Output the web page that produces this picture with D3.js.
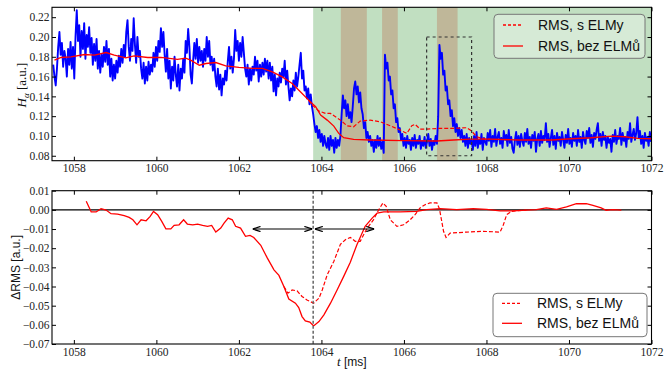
<!DOCTYPE html>
<html>
<head>
<meta charset="utf-8">
<script src="https://cdn.jsdelivr.net/npm/d3@7"></script>
<style>
  body { margin: 0; background: #fff; }
</style>
</head>
<body>
<svg id="chart" width="665" height="370"></svg>
<script>
// ---- data ----
const xTicks = [1058, 1060, 1062, 1064, 1066, 1068, 1070, 1072];
const topYTicks = [0.08, 0.10, 0.12, 0.14, 0.16, 0.18, 0.20, 0.22];
const bottomYTicks = [0.01, 0.00, -0.01, -0.02, -0.03, -0.04, -0.05, -0.06, -0.07];

const hModeStart = 1063.8;          // green region + dotted line
const elmBands = [[1064.47, 1065.10], [1065.47, 1065.85], [1066.80, 1067.30]];
const zoomBox = { t0: 1066.55, t1: 1067.64, v0: 0.08, v1: 0.20 };
const arrowSpans = [[1062.33, 1063.78], [1063.84, 1065.28]];
const arrowLevel = -0.01;

// H-alpha signal, 10^-3 a.u., sampled every 0.03 ms from 1057.5 ms
const halphaStart = 1057.5, halphaStep = 0.03;
const halphaMilli = [
  172, 160, 151, 168, 190, 205, 182, 194, 170, 186,
  178, 160, 188, 172, 195, 168, 190, 158, 200, 227,
  196, 212, 180, 206, 188, 214, 178, 202, 190, 210,
  184, 199, 172, 193, 176, 198, 168, 186, 164, 182,
  170, 190, 175, 196, 172, 188, 160, 178, 156, 172,
  158, 176, 164, 181, 170, 188, 174, 192, 180, 205,
  217, 190, 176, 198, 186, 219, 192, 174, 200, 180,
  186, 168, 158, 174, 153, 170, 156, 175, 162, 172,
  165, 184, 170, 190, 176, 196, 185, 209, 190, 205,
  182, 165, 188, 158, 176, 148, 170, 156, 180, 162,
  150, 172, 146, 168, 158, 178, 164, 196, 184, 208,
  190, 162, 153, 176, 194, 178, 198, 174, 190, 176,
  186, 170, 188, 176, 200, 180, 196, 172, 180, 166,
  178, 160, 150, 168, 147, 162, 141, 158, 152, 166,
  156, 175, 190, 168, 180, 164, 178, 207, 186, 196,
  176, 194, 180, 200, 184, 168, 160, 172, 152, 168,
  156, 170, 162, 180, 166, 176, 155, 172, 160, 174,
  162, 178, 165, 176, 158, 174, 156, 170, 145, 162,
  141, 158, 150, 164, 154, 168, 160, 176, 152, 166,
  150, 136, 148, 140, 156, 146, 164, 150, 160, 172,
  184, 158, 166, 146, 150, 138, 148, 132, 142, 130,
  122, 112, 104, 110, 98, 106, 94, 102, 90, 100,
  92, 88, 98, 86, 100, 90, 96, 83, 98, 88,
  96, 90, 100, 122, 141, 128, 136, 120, 132, 118,
  124, 114, 130, 148, 155, 142, 150, 134, 144, 128,
  122, 108, 114, 98, 104, 94, 100, 90, 96, 84,
  96, 88, 100, 90, 98, 87, 94, 83, 182, 168,
  174, 156, 160, 142, 146, 128, 132, 114, 118, 104,
  108, 96, 102, 90, 98, 88, 100, 92, 96, 86,
  98, 90, 101, 88, 96, 92, 100, 87, 95, 90,
  99, 88, 94, 102, 90, 97, 86, 95, 91, 100,
  92, 120, 192, 178, 184, 162, 166, 146, 150, 132,
  136, 120, 126, 110, 118, 104, 112, 100, 108, 98,
  106, 94, 100, 90, 102, 88, 98, 92, 96, 86,
  100, 90, 104, 88, 96, 92, 102, 86, 98, 94,
  91, 103, 95, 106, 89, 100, 94, 107, 90, 99,
  104, 92, 98, 88, 105, 96, 101, 90, 106, 93,
  99, 87, 83, 96, 104, 91, 100, 89, 102, 95,
  90, 103, 94, 107, 92, 99, 88, 101, 95, 104,
  84, 97, 102, 90, 105, 93, 100, 96, 113, 94,
  102, 89, 98, 106, 91, 100, 87, 103, 95, 99,
  90, 104, 96, 88, 101, 93, 107, 92, 98, 89,
  103, 95, 100, 90, 106, 94, 99, 88, 104, 96,
  92, 105, 98, 108, 93, 101, 89, 103, 97, 106,
  113, 95, 102, 90, 104, 96, 100, 88, 99, 93,
  97, 84, 101, 94, 106, 92, 100, 97, 108, 91,
  103, 95, 99, 89, 104, 97, 113, 94, 101, 107,
  96, 103, 119, 98, 105, 92, 100, 88, 103, 95,
  99, 90, 104, 94
];

// RMS trend of H-alpha [t, value]
const rmsTopNoElm = [
  [1057.53, 0.1766], [1057.69, 0.1793], [1057.93, 0.1800], [1058.26, 0.1823], [1058.50, 0.1816],
  [1058.78, 0.1843], [1058.98, 0.1816], [1059.26, 0.1789], [1059.46, 0.1809], [1059.79, 0.1793],
  [1060.11, 0.1793], [1060.31, 0.1783], [1060.51, 0.1773], [1060.71, 0.1786], [1060.83, 0.1766],
  [1061.04, 0.1715], [1061.20, 0.1732], [1061.44, 0.1742], [1061.68, 0.1708], [1062.00, 0.1692],
  [1062.33, 0.1682], [1062.57, 0.1682], [1062.81, 0.1648], [1063.05, 0.1597], [1063.29, 0.1530],
  [1063.49, 0.1446], [1063.69, 0.1362], [1063.86, 0.1295], [1063.98, 0.1211], [1064.14, 0.1160],
  [1064.30, 0.1100], [1064.42, 0.1026], [1064.54, 0.0982], [1064.78, 0.0966], [1065.18, 0.0959],
  [1065.99, 0.0952], [1066.80, 0.0949], [1067.20, 0.0959], [1067.60, 0.0969], [1068.08, 0.0969],
  [1068.77, 0.0959], [1069.58, 0.0959], [1070.06, 0.0972], [1070.54, 0.0982], [1071.03, 0.0999],
  [1071.35, 0.0992], [1071.67, 0.0976], [1071.99, 0.0972]
];
// with ELMs: only the stretch where it leaves the ELM-free curve
const rmsTopElm = [
  [1063.69, 0.1362], [1063.78, 0.1312], [1063.94, 0.1251], [1064.10, 0.1228], [1064.22, 0.1228],
  [1064.46, 0.1160], [1064.62, 0.1103], [1064.78, 0.1093], [1064.94, 0.1150], [1065.18, 0.1160],
  [1065.43, 0.1143], [1065.67, 0.1103], [1065.91, 0.1060], [1066.07, 0.1026], [1066.19, 0.1103],
  [1066.27, 0.1117], [1066.39, 0.1070], [1066.55, 0.1070], [1066.88, 0.1077], [1067.20, 0.1077],
  [1067.52, 0.1083], [1067.64, 0.1050], [1067.76, 0.0992], [1067.96, 0.0969], [1068.08, 0.0969]
];

// delta RMS [t, value]
const dRmsNoElm = [
  [1058.30, 0.0045], [1058.42, -0.0011], [1058.54, -0.0011], [1058.66, 0.0006], [1058.78, -0.0001],
  [1058.90, -0.0020], [1059.06, -0.0022], [1059.22, -0.0030], [1059.34, -0.0039], [1059.43, -0.0052],
  [1059.53, -0.0078], [1059.63, -0.0052], [1059.75, -0.0057], [1059.85, -0.0034], [1059.93, -0.0008],
  [1060.03, -0.0025], [1060.13, -0.0060], [1060.23, -0.0099], [1060.35, -0.0099], [1060.43, -0.0081],
  [1060.55, -0.0078], [1060.66, -0.0052], [1060.75, -0.0074], [1060.88, -0.0078], [1061.00, -0.0074],
  [1061.12, -0.0081], [1061.24, -0.0086], [1061.34, -0.0081], [1061.44, -0.0116], [1061.56, -0.0095],
  [1061.64, -0.0069], [1061.74, -0.0043], [1061.84, -0.0052], [1061.92, -0.0086], [1062.04, -0.0095],
  [1062.16, -0.0138], [1062.27, -0.0133], [1062.36, -0.0144], [1062.53, -0.0185], [1062.69, -0.0252],
  [1062.85, -0.0313], [1062.97, -0.0342], [1063.09, -0.0400], [1063.21, -0.0465], [1063.37, -0.0487],
  [1063.45, -0.0510], [1063.53, -0.0557], [1063.61, -0.0580], [1063.72, -0.0586], [1063.81, -0.0606],
  [1063.94, -0.0583], [1064.06, -0.0548], [1064.22, -0.0487], [1064.38, -0.0418], [1064.54, -0.0347],
  [1064.70, -0.0273], [1064.86, -0.0182], [1065.06, -0.0086], [1065.23, -0.0043], [1065.35, -0.0017],
  [1065.51, -0.0011], [1065.91, -0.0011], [1066.31, -0.0008], [1066.55, 0.0001], [1066.88, 0.0006],
  [1067.28, 0.0001], [1067.68, 0.0006], [1068.00, 0.0003], [1068.33, -0.0005], [1068.65, -0.0005],
  [1068.97, -0.0001], [1069.21, 0.0001], [1069.45, 0.0010], [1069.70, 0.0003], [1069.94, 0.0015],
  [1070.18, 0.0032], [1070.42, 0.0032], [1070.58, 0.0024], [1070.78, 0.0010], [1070.90, -0.0002],
  [1071.06, 0.0001], [1071.27, -0.0001]
];
const dRmsElm = [
  [1063.09, -0.0400], [1063.19, -0.0435], [1063.29, -0.0418], [1063.41, -0.0423], [1063.53, -0.0452],
  [1063.65, -0.0470], [1063.81, -0.0487], [1063.94, -0.0461], [1064.02, -0.0418], [1064.14, -0.0339],
  [1064.30, -0.0269], [1064.46, -0.0180], [1064.58, -0.0156], [1064.70, -0.0144], [1064.82, -0.0164],
  [1064.94, -0.0164], [1065.11, -0.0095], [1065.26, -0.0052], [1065.39, 0.0001], [1065.49, 0.0036],
  [1065.57, 0.0018], [1065.67, -0.0052], [1065.83, -0.0086], [1065.99, -0.0078], [1066.15, -0.0052],
  [1066.27, -0.0025], [1066.39, 0.0010], [1066.51, 0.0027], [1066.63, 0.0036], [1066.80, 0.0036],
  [1066.86, 0.0006], [1066.96, -0.0112], [1067.02, -0.0144], [1067.12, -0.0121], [1067.52, -0.0116],
  [1067.92, -0.0112], [1068.33, -0.0116], [1068.41, -0.0078], [1068.49, -0.0025], [1068.61, -0.0008],
  [1068.69, -0.0005], [1068.97, -0.0001]
];

const legendLabels = ["RMS, s ELMy", "RMS, bez ELMů"];

// ---- layout ----
const svg = d3.select("#chart");
const serif = "'Liberation Serif', 'Times New Roman', serif";
const sans = "'Liberation Sans', Arial, sans-serif";
const top1 = 7.3, bottom1 = 160.7, top2 = 190.7, bottom2 = 344;

const x = d3.scaleLinear().domain([1057.47, 1072]).range([52, 651.5]);
const y1 = d3.scaleLinear().domain([0.075, 0.23]).range([bottom1, top1]);
const y2 = d3.scaleLinear().domain([-0.07, 0.01]).range([bottom2, top2]);
const x0 = x.range()[0], x1 = x.range()[1];

const defs = svg.append("defs");
[["clipTop", top1, bottom1], ["clipBottom", top2, bottom2]].forEach(([id, t, b]) => {
  defs.append("clipPath").attr("id", id)
    .append("rect").attr("x", x0).attr("y", t).attr("width", x1 - x0).attr("height", b - t);
});
defs.append("marker")
  .attr("id", "arrowHead")
  .attr("viewBox", "0 0 8 6")
  .attr("refX", 8).attr("refY", 3)
  .attr("markerWidth", 8).attr("markerHeight", 6)
  .attr("markerUnits", "userSpaceOnUse")
  .attr("orient", "auto-start-reverse")
  .append("path")
  .attr("d", "M0,0.4 L8,3 L0,5.6")
  .attr("fill", "none").attr("stroke", "#000").attr("stroke-width", 1.2);

const lineOf = (ys) => d3.line().x(d => x(d[0])).y(d => ys(d[1]));

// ---- top panel ----
const gTop = svg.append("g").attr("clip-path", "url(#clipTop)");

gTop.append("rect")
  .attr("x", x(hModeStart)).attr("y", top1)
  .attr("width", x(1072) - x(hModeStart)).attr("height", bottom1 - top1)
  .attr("fill", "#c1dfc1");

gTop.selectAll(".elm").data(elmBands).enter().append("rect")
  .attr("class", "elm")
  .attr("x", d => x(d[0])).attr("y", top1)
  .attr("width", d => x(d[1]) - x(d[0])).attr("height", bottom1 - top1)
  .attr("fill", "#bfb799");

gTop.append("path")
  .datum(halphaMilli)
  .attr("d", d3.line().x((d, i) => x(halphaStart + i * halphaStep)).y(d => y1(d / 1000)))
  .attr("fill", "none").attr("stroke", "#0000ff").attr("stroke-width", 1.9)
  .attr("stroke-linejoin", "round");

gTop.append("path").datum(rmsTopElm).attr("d", lineOf(y1))
  .attr("fill", "none").attr("stroke", "#ff0000").attr("stroke-width", 1.2)
  .attr("stroke-dasharray", "4,2");
gTop.append("path").datum(rmsTopNoElm).attr("d", lineOf(y1))
  .attr("fill", "none").attr("stroke", "#ff0000").attr("stroke-width", 1.3);

gTop.append("rect")
  .attr("x", x(zoomBox.t0)).attr("y", y1(zoomBox.v1))
  .attr("width", x(zoomBox.t1) - x(zoomBox.t0)).attr("height", y1(zoomBox.v0) - y1(zoomBox.v1))
  .attr("fill", "none").attr("stroke", "#333").attr("stroke-width", 1.2)
  .attr("stroke-dasharray", "3,3");

// ---- bottom panel ----
const gBot = svg.append("g").attr("clip-path", "url(#clipBottom)");

gBot.append("line")
  .attr("x1", x0).attr("x2", x1).attr("y1", y2(0)).attr("y2", y2(0))
  .attr("stroke", "#000").attr("stroke-width", 1.1);

gBot.append("path").datum(dRmsElm).attr("d", lineOf(y2))
  .attr("fill", "none").attr("stroke", "#ff0000").attr("stroke-width", 1.2)
  .attr("stroke-dasharray", "4,2");
gBot.append("path").datum(dRmsNoElm).attr("d", lineOf(y2))
  .attr("fill", "none").attr("stroke", "#ff0000").attr("stroke-width", 1.3);

gBot.append("line")
  .attr("x1", x(hModeStart)).attr("x2", x(hModeStart)).attr("y1", top2).attr("y2", bottom2)
  .attr("stroke", "#666").attr("stroke-width", 1.5).attr("stroke-dasharray", "3,2");

gBot.selectAll(".span").data(arrowSpans).enter().append("line")
  .attr("class", "span")
  .attr("x1", d => x(d[0])).attr("x2", d => x(d[1]))
  .attr("y1", y2(arrowLevel)).attr("y2", y2(arrowLevel))
  .attr("stroke", "#000").attr("stroke-width", 1.1)
  .attr("marker-start", "url(#arrowHead)").attr("marker-end", "url(#arrowHead)");

// ---- axes / frames ----
function frame(yScale, yTicks, yFmt, t, b) {
  const g = svg.append("g");
  g.append("g").attr("transform", `translate(0,${b})`)
    .call(d3.axisBottom(x).tickValues(xTicks).tickFormat(d3.format("d"))
      .tickSizeInner(-4).tickSizeOuter(0).tickPadding(3.5));
  g.append("g").attr("transform", `translate(0,${t})`)
    .call(d3.axisTop(x).tickValues(xTicks).tickFormat("").tickSizeInner(-4).tickSizeOuter(0));
  g.append("g").attr("transform", `translate(${x0},0)`)
    .call(d3.axisLeft(yScale).tickValues(yTicks).tickFormat(yFmt)
      .tickSizeInner(-4).tickSizeOuter(0).tickPadding(2.5));
  g.append("g").attr("transform", `translate(${x1},0)`)
    .call(d3.axisRight(yScale).tickValues(yTicks).tickFormat("").tickSizeInner(-4).tickSizeOuter(0));
  g.selectAll(".domain").remove();
  g.selectAll(".tick line").attr("stroke", "#000");
  g.selectAll(".tick text").attr("font-family", serif).attr("font-size", 11.5).attr("fill", "#222");
  g.append("rect").attr("x", x0).attr("y", t).attr("width", x1 - x0).attr("height", b - t)
    .attr("fill", "none").attr("stroke", "#000").attr("stroke-width", 1.1);
}
frame(y1, topYTicks, d3.format(".2f"), top1, bottom1);
frame(y2, bottomYTicks, d3.format(".2f"), top2, bottom2);

// ---- legends ----
function legend(bx, by, bw, bh, rowY, fill) {
  const g = svg.append("g");
  g.append("rect").attr("x", bx).attr("y", by).attr("width", bw).attr("height", bh)
    .attr("rx", 4).attr("fill", fill).attr("stroke", "#777").attr("stroke-width", 1);
  legendLabels.forEach((label, i) => {
    const yy = rowY[i];
    g.append("line").attr("x1", bx + 9).attr("x2", bx + 29).attr("y1", yy).attr("y2", yy)
      .attr("stroke", "#ff0000").attr("stroke-width", 1.3)
      .attr("stroke-dasharray", i === 0 ? "3,2" : null);
    g.append("text").attr("x", bx + 44).attr("y", yy).attr("dy", "0.36em")
      .attr("font-family", sans).attr("font-size", 14).attr("fill", "#111")
      .text(label);
  });
}
legend(494, 14.3, 151, 44, [25, 46], "rgba(255,255,255,0.35)");
legend(493, 293.3, 154, 43.4, [303.3, 323.3], "#fff");

// ---- axis titles ----
const hLabel = svg.append("text")
  .attr("transform", "translate(26,85) rotate(-90)")
  .attr("text-anchor", "middle")
  .attr("font-family", serif).attr("font-size", 13).attr("fill", "#111");
hLabel.append("tspan").attr("font-style", "italic").text("H");
hLabel.append("tspan").attr("font-style", "italic").attr("font-size", 9).attr("dy", 3).text("α");
hLabel.append("tspan").attr("dy", -3).text(" [a.u.]");

svg.append("text")
  .attr("transform", `translate(20,${(top2 + bottom2) / 2}) rotate(-90)`)
  .attr("text-anchor", "middle")
  .attr("font-family", sans).attr("font-size", 12).attr("fill", "#111")
  .text("ΔRMS [a.u.]");

const tLabel = svg.append("text")
  .attr("x", (x0 + x1) / 2).attr("y", 366)
  .attr("text-anchor", "middle")
  .attr("font-family", sans).attr("font-size", 12).attr("fill", "#111");
tLabel.append("tspan").attr("font-family", serif).attr("font-style", "italic").attr("font-size", 13).text("t");
tLabel.append("tspan").text(" [ms]");
</script>
</body>
</html>
